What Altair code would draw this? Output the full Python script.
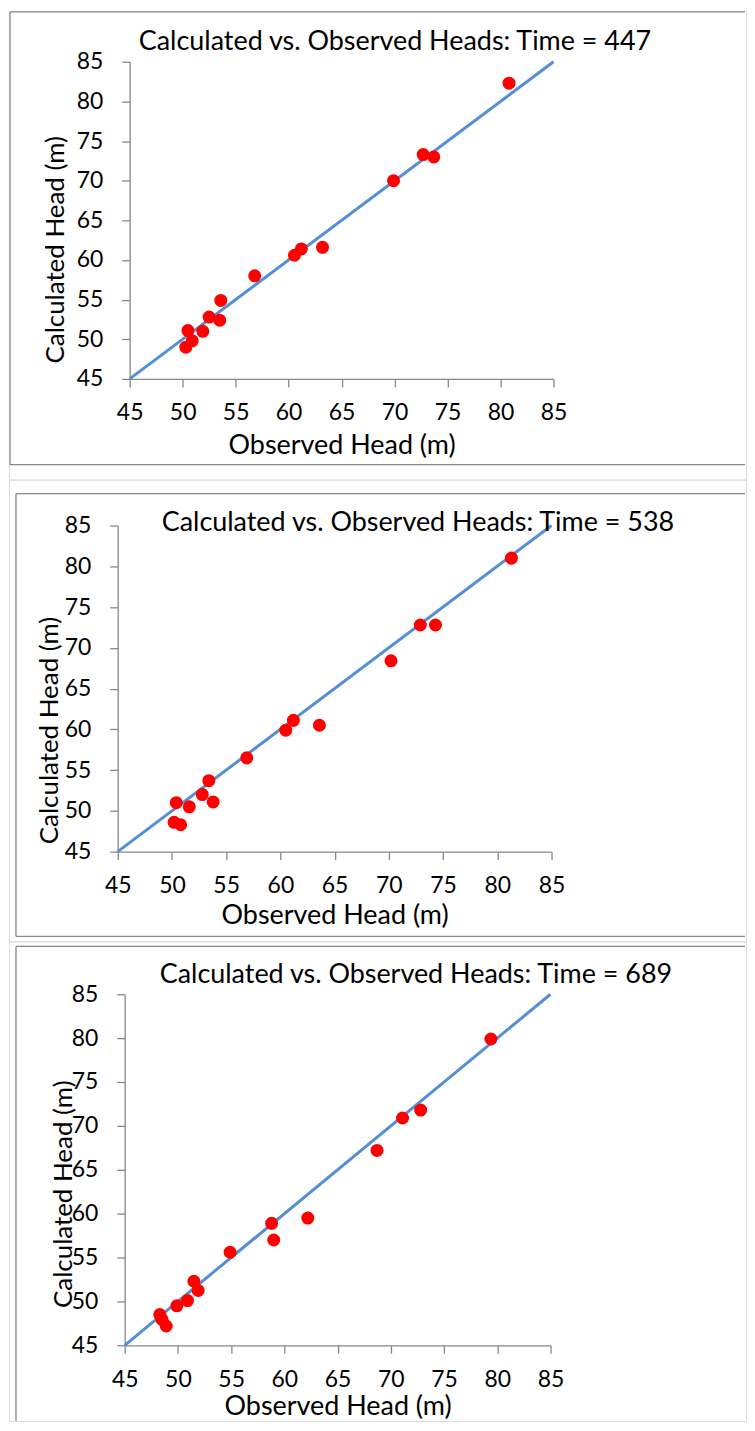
import altair as alt
import pandas as pd

# ---- data ----
ticks = [45, 50, 55, 60, 65, 70, 75, 80, 85]
one_to_one = [45, 85]

titles = ["Calculated vs. Observed Heads: Time = 447",
          "Calculated vs. Observed Heads: Time = 538",
          "Calculated vs. Observed Heads: Time = 689"]

obs_447 = [50.3, 50.5, 50.9, 51.9, 52.5, 53.5, 53.6, 56.8, 60.55, 61.2, 63.2, 69.9, 72.7, 73.7, 80.8]
calc_447 = [49.0, 51.1, 49.8, 51.0, 52.8, 52.4, 54.9, 58.0, 60.6, 61.4, 61.6, 70.0, 73.3, 73.0, 82.3]

obs_538 = [50.2, 50.8, 50.4, 51.6, 52.8, 53.4, 53.8, 56.9, 60.5, 61.2, 63.6, 70.2, 72.9, 74.3, 81.3]
calc_538 = [48.6, 48.3, 51.0, 50.5, 52.0, 53.7, 51.1, 56.5, 59.9, 61.1, 60.5, 68.4, 72.8, 72.8, 81.0]

obs_689 = [48.3, 48.5, 48.9, 49.9, 50.9, 51.5, 51.9, 54.9, 58.8, 59.0, 62.2, 68.7, 71.1, 72.8, 79.4]
calc_689 = [48.5, 47.95, 47.2, 49.5, 50.1, 52.3, 51.25, 55.6, 58.9, 57.0, 59.5, 67.2, 70.9, 71.8, 79.9]

FONT = "Lato"
GRAY = "#888888"
W = 739


def panel(obs, calc, title, H, plot, frame, title_pos, ytitle, xtitle_y):
    px1, py1, px2, py2 = plot          # plot area inside the panel (pixels)
    fx, fy1, fy2, bottom = frame
    pts = pd.DataFrame({"obs": obs, "calc": calc})
    diag = pd.DataFrame({"obs": one_to_one, "calc": one_to_one})
    one = pd.DataFrame({"t": [title]})

    xs = alt.Scale(domain=[45, 85], nice=False, zero=False, range=[px1, px2])
    ys = alt.Scale(domain=[45, 85], nice=False, zero=False, range=[py2, py1])
    common = dict(values=ticks, grid=False, domainColor=GRAY, tickColor=GRAY,
                  domainWidth=1.3, tickWidth=1.3, tickSize=8, labelFlush=False,
                  labelFont=FONT, labelFontSize=23, labelColor="black",
                  titleFont=FONT, titleFontWeight="normal",
                  titleColor="black", labelOverlap=False)
    xaxis = alt.Axis(title="Observed Head (m)", labelPadding=33,
                     labelBaseline="alphabetic", offset=py2 - H,
                     titleX=(px1 + px2) / 2, titleY=xtitle_y, titleFontSize=27,
                     titleBaseline="alphabetic", titleAlign="center", **common)
    yaxis = alt.Axis(title="Calculated Head (m)", labelPadding=19, offset=-px1,
                     titleX=ytitle[0], titleY=ytitle[1], titleAngle=270,
                     titleFontSize=26,
                     titleBaseline="alphabetic", titleAlign="center", **common)

    layers = []
    # panel border (chart-area frame)
    layers.append(alt.Chart(one).mark_rule(color=GRAY, strokeWidth=1.3).encode(
        x=alt.value(fx), y=alt.value(fy1), y2=alt.value(fy2)))
    layers.append(alt.Chart(one).mark_rule(color=GRAY, strokeWidth=1.3).encode(
        x=alt.value(fx), x2=alt.value(W - 1), y=alt.value(fy1)))
    if bottom:
        layers.append(alt.Chart(one).mark_rule(color=GRAY, strokeWidth=1.3).encode(
            x=alt.value(fx), x2=alt.value(W - 1), y=alt.value(fy2)))
    layers.append(alt.Chart(diag).mark_line(color="#558ED5", strokeWidth=3).encode(
        x=alt.X("obs:Q", scale=xs, axis=xaxis),
        y=alt.Y("calc:Q", scale=ys, axis=yaxis)))
    layers.append(alt.Chart(pts).mark_circle(color="#FF0000", size=170, opacity=1).encode(
        x=alt.X("obs:Q", scale=xs, axis=xaxis),
        y=alt.Y("calc:Q", scale=ys, axis=yaxis)))
    layers.append(alt.Chart(one).mark_text(font=FONT, fontSize=27, color="black",
                                           align="center", baseline="alphabetic").encode(
        x=alt.value(title_pos[0]), y=alt.value(title_pos[1]), text="t:N"))
    return alt.layer(*layers).properties(width=W, height=H)


p1 = panel(obs_447, calc_447, titles[0], 470,
           (121, 51, 546, 369), (1, 1, 455, True),
           (387, 39), (-66, 239), 75)
p2 = panel(obs_538, calc_538, titles[1], 463,
           (109, 46, 544, 373), (7, 14, 458, True),
           (410, 51), (-60, 251), 72)
p3 = panel(obs_689, calc_689, titles[2], 481,
           (116, 53, 543, 405), (7, 5, 481, False),
           (408, 42), (-53, 253), 69)

chart = alt.vconcat(p1, p2, p3, spacing=0, bounds="flush").properties(
    padding=0
).configure_view(stroke=None).configure_axis(labelOverlap=False).configure(background="white")

chart.save("out.html", embed_options={"renderer": "svg", "actions": False})
